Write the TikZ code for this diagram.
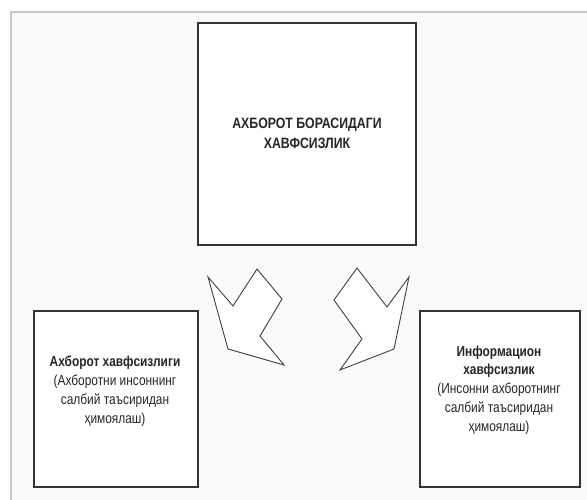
\documentclass[tikz,border=0pt]{standalone}
\usepackage{fontspec}
\setmainfont[FakeStretch=0.82]{Liberation Sans}
\begin{document}
\begin{tikzpicture}[x=1pt,y=-1pt,
  box/.style={draw=black!80, line width=1.3pt, fill=white, inner sep=0pt},
  lbl/.style={align=center, text=black!85},
  arr/.style={draw=black!75, line width=0.9pt, fill=white, line join=miter}]
\useasboundingbox (0,0) rectangle (587,500);
\clip (0,0) rectangle (587,500);
\fill[white] (0,0) rectangle (587,500);
\draw[draw=black!22, fill=black!2, line width=2pt] (11,12) rectangle (600,520);
% boxes
\node[box, minimum width=218pt, minimum height=222pt] (top) at (307,134) {};
\node[box, minimum width=164pt, minimum height=176pt] (left) at (116,399) {};
\node[box, minimum width=160pt, minimum height=176pt] (right) at (500,399) {};
% texts
\node[lbl, font=\bfseries\fontsize{15}{20}\selectfont] (toptext) at (307,133)
  {АХБОРОТ БОРАСИДАГИ\\ХАВФСИЗЛИК};
\node[lbl, font=\fontsize{14.5}{19}\selectfont] (lefttext) at (115,391)
  {\textbf{Ахборот хавфсизлиги}\\(Ахборотни инсоннинг\\салбий таъсиридан\\ҳимоялаш)};
\node[lbl, font=\fontsize{14.5}{18.8}\selectfont] (righttext) at (499,390)
  {\textbf{Информацион}\\\textbf{хавфсизлик}\\(Инсонни ахборотнинг\\салбий таъсиридан\\ҳимоялаш)};
% block arrows
\draw[arr] (208,277) -- (233,306) -- (257,269) -- (282,299) -- (260,336) -- (284,365) -- (228,349) -- cycle;
\draw[arr] (409,277) -- (387,307) -- (357,268) -- (334,300) -- (362,339) -- (340,370) -- (394,349) -- cycle;
\end{tikzpicture}
\end{document}
